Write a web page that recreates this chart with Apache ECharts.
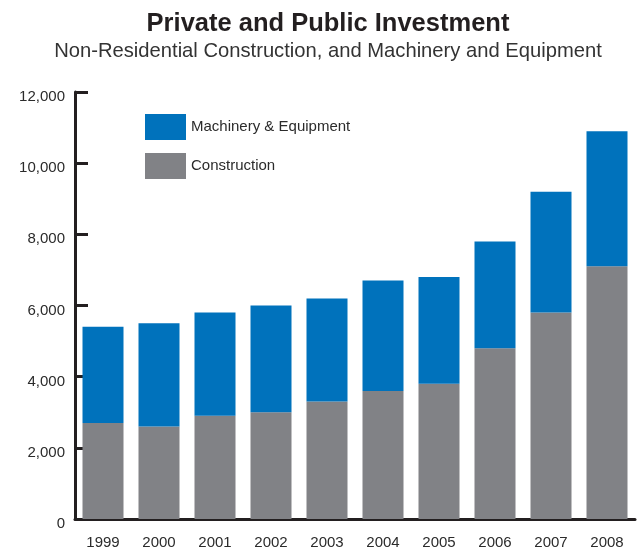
<!DOCTYPE html>
<html>
<head>
<meta charset="utf-8">
<script src="https://cdn.jsdelivr.net/npm/echarts@6/dist/echarts.min.js"></script>
<style>
html,body{margin:0;padding:0;background:#fff;}
#chart{width:642px;height:550px;}
</style>
</head>
<body>
<div id="chart"></div>
<script>
const years = ['1999','2000','2001','2002','2003','2004','2005','2006','2007','2008'];
const construction = [2700, 2600, 2900, 3000, 3300, 3600, 3800, 4800, 5800, 7100];
const machinery = [2700, 2900, 2900, 3000, 2900, 3100, 3000, 3000, 3400, 3800];
const yTicks = { min: 0, max: 12000, interval: 2000 };

const chart = echarts.init(document.getElementById('chart'), null, { renderer: 'canvas' });
const axisColor = '#231f20';
chart.setOption({
  backgroundColor: '#ffffff',
  animation: false,
  graphic: [
    { type: 'text', x: 328, y: 23.5,
      style: { text: 'Private and Public Investment', x: 0, y: 0, textAlign: 'center', textVerticalAlign: 'middle',
        font: 'bold 25.5px "Liberation Sans", Arial, sans-serif', fill: '#231f20' } },
    { type: 'text', x: 328, y: 51,
      style: { text: 'Non-Residential Construction, and Machinery and Equipment', x: 0, y: 0, textAlign: 'center', textVerticalAlign: 'middle',
        font: '20.2px "Liberation Sans", Arial, sans-serif', fill: '#333333' } }
  ],
  legend: {
    orient: 'vertical',
    left: 140, top: 109,
    itemWidth: 41, itemHeight: 26, itemGap: 13,
    icon: 'rect',
    data: ['Machinery & Equipment', 'Construction'],
    textStyle: { fontSize: 15, color: '#2b2b2b', fontFamily: '"Liberation Sans", Arial, sans-serif' }
  },
  grid: { left: 75, right: 7, top: 92, bottom: 27, containLabel: false },
  xAxis: {
    type: 'category',
    data: years,
    boundaryGap: true,
    axisLine: { lineStyle: { color: axisColor, width: 3 } },
    axisTick: { inside: true, length: 6, lineStyle: { color: axisColor, width: 2.5 } },
    axisLabel: { margin: 16, fontSize: 15, color: '#2b2b2b', fontFamily: '"Liberation Sans", Arial, sans-serif' },
    splitLine: { show: false }
  },
  yAxis: {
    type: 'value',
    min: yTicks.min, max: yTicks.max, interval: yTicks.interval,
    axisLine: { show: true, lineStyle: { color: axisColor, width: 3 } },
    axisTick: { show: true, inside: true, length: 13, lineStyle: { color: axisColor, width: 3 } },
    axisLabel: { margin: 10, fontSize: 15, color: '#2b2b2b', verticalAlign: 'top', lineHeight: 10,
      fontFamily: '"Liberation Sans", Arial, sans-serif',
      formatter: v => v.toLocaleString('en-US') },
    splitLine: { show: false }
  },
  series: [
    { name: 'Construction', type: 'bar', stack: 'total', data: construction, barWidth: 41,
      itemStyle: { color: '#818286' } },
    { name: 'Machinery & Equipment', type: 'bar', stack: 'total', data: machinery, barWidth: 41,
      itemStyle: { color: '#0072bc' } }
  ]
});
</script>
</body>
</html>
